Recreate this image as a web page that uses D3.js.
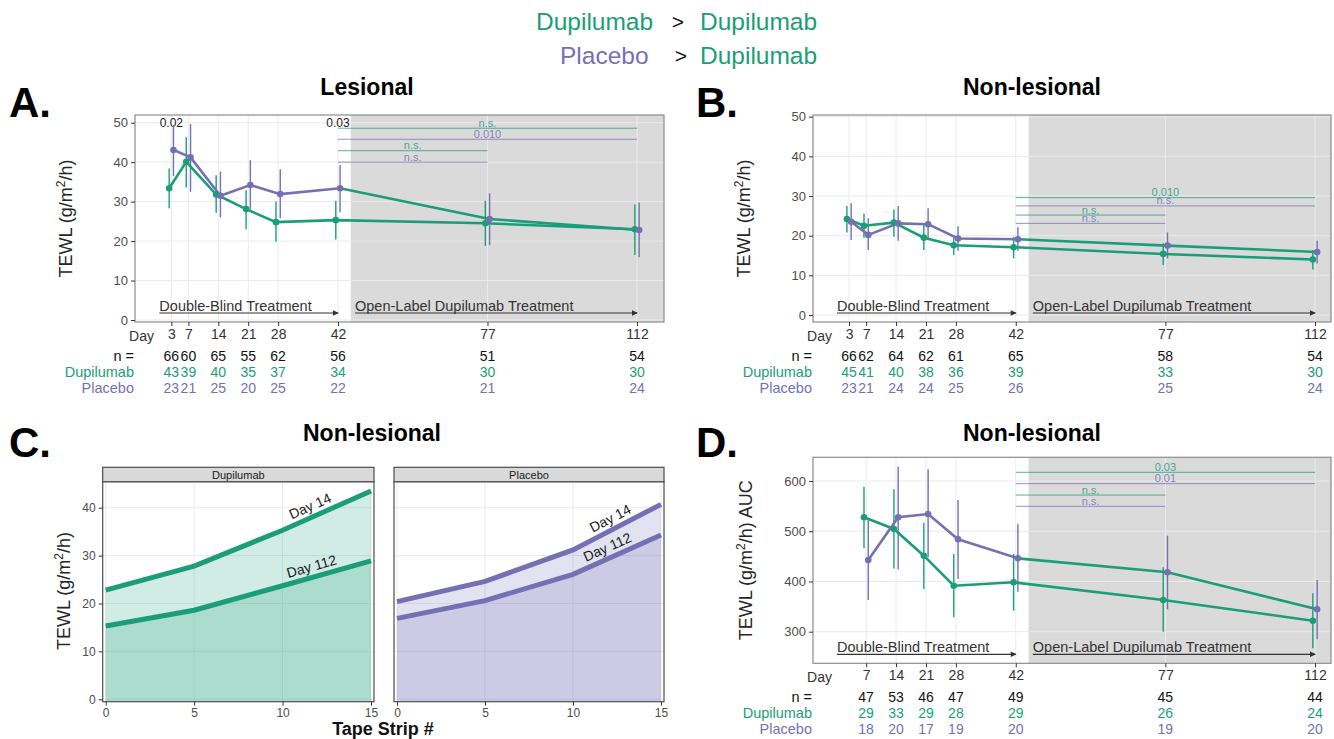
<!DOCTYPE html>
<html>
<head>
<meta charset="utf-8">
<script src="https://cdn.jsdelivr.net/npm/d3@7"></script>
<style>
body { margin: 0; background: #fff; }
svg { display: block; }
text { font-family: "Liberation Sans", Arial, sans-serif; }
</style>
</head>
<body>
<div id="chart"></div>
<script>
const GREEN = "#1b9e77";
const PURPLE = "#7570b3";

// header legend
const legendLeft = ["Dupilumab", "Placebo"];
const legendRight = ["Dupilumab", "Dupilumab"];

// study days
const days = [3, 7, 14, 21, 28, 42, 77, 112];
const daysAuc = [7, 14, 21, 28, 42, 77, 112];

// A. Lesional TEWL
const lesDupMean = [33.4, 40.1, 31.8, 28.1, 24.8, 25.3, 24.5, 23.0];
const lesDupLo = [28.3, 33.6, 27.2, 23.0, 19.8, 20.4, 18.8, 16.5];
const lesDupHi = [38.4, 46.3, 36.7, 32.9, 30.0, 30.2, 30.2, 29.3];
const lesPlaMean = [43.1, 41.2, 31.5, 34.2, 31.9, 33.4, 25.6, 22.8];
const lesPlaLo = [36.5, 32.5, 26.0, 28.0, 25.8, 27.3, 19.0, 15.9];
const lesPlaHi = [49.5, 49.7, 37.6, 40.5, 38.2, 39.3, 32.1, 29.8];
const lesN = [66, 60, 65, 55, 62, 56, 51, 54];
const lesNDup = [43, 39, 40, 35, 37, 34, 30, 30];
const lesNPla = [23, 21, 25, 20, 25, 22, 21, 24];
const lesSigLabels = ["n.s.", "0.010", "n.s.", "n.s."];
const lesSigY = [48.6, 45.8, 42.9, 40.0];
const lesSigEnd = [112, 112, 77, 77];
const lesTopP = ["0.02", "0.03"];
const lesTopPDays = [3, 42];

// B. Non-lesional TEWL
const nlDupMean = [24.2, 22.5, 23.3, 19.5, 17.6, 17.1, 15.4, 14.0];
const nlDupLo = [20.8, 19.5, 19.7, 16.4, 15.1, 14.3, 12.6, 11.5];
const nlDupHi = [27.5, 25.5, 26.6, 22.7, 20.2, 19.7, 18.1, 16.4];
const nlPlaMean = [23.5, 20.2, 23.1, 22.9, 19.3, 19.1, 17.5, 15.9];
const nlPlaLo = [18.9, 16.4, 18.7, 19.1, 16.2, 16.2, 14.3, 13.0];
const nlPlaHi = [28.2, 24.4, 27.5, 26.9, 22.4, 22.1, 20.8, 18.7];
const nlN = [66, 62, 64, 62, 61, 65, 58, 54];
const nlNDup = [45, 41, 40, 38, 36, 39, 33, 30];
const nlNPla = [23, 21, 24, 24, 25, 26, 25, 24];
const nlSigLabels = ["0.010", "n.s.", "n.s.", "n.s."];
const nlSigY = [29.6, 27.5, 25.2, 23.1];
const nlSigEnd = [112, 112, 77, 77];

// C. Tape strips
const tapeStrips = [0, 5, 10, 15];
const tapeDupDay14 = [22.8, 27.8, 35.3, 43.5];
const tapeDupDay112 = [15.3, 18.6, 23.7, 28.9];
const tapePlaDay14 = [20.4, 24.6, 31.2, 40.7];
const tapePlaDay112 = [16.9, 20.6, 26.1, 34.3];

// D. Non-lesional TEWL AUC
const aucDupMean = [527.8, 504.5, 451.3, 391.6, 398.3, 363.0, 321.9];
const aucDupLo = [466, 426, 385, 328.6, 341.8, 300, 267];
const aucDupHi = [588.7, 583.5, 517, 454.7, 454.7, 428.2, 376.5];
const aucPlaMean = [442.7, 527.8, 534.3, 484.0, 446.0, 418.3, 344.6];
const aucPlaLo = [363, 424, 448, 405, 379.6, 344.6, 285];
const aucPlaHi = [522.4, 628.5, 623.3, 562.2, 513.8, 491.1, 403];
const aucN = [47, 53, 46, 47, 49, 45, 44];
const aucNDup = [29, 33, 29, 28, 29, 26, 24];
const aucNPla = [18, 20, 17, 19, 20, 19, 20];
const aucSigLabels = ["0.03", "0.01", "n.s.", "n.s."];
const aucSigY = [617.3, 594.7, 572.0, 549.6];
const aucSigEnd = [112, 112, 77, 77];

const sigGroups = ["Dupilumab", "Placebo", "Dupilumab", "Placebo"];

function yTitle(g, x, y, extra) {
    const t = g.append("text")
        .attr("transform", `translate(${x},${y}) rotate(-90)`)
        .attr("text-anchor", "middle")
        .attr("fill", "#262626")
        .attr("font-size", 18);
    t.append("tspan").text("TEWL (g/m");
    t.append("tspan").attr("dy", -7).attr("font-size", 12).text("2");
    t.append("tspan").attr("dy", 7).text("/h)" + (extra || ""));
}

function drawTimePanel(svg, p) {
    const x = d3.scaleLinear().domain([0, 112]).range(p.xr);
    const y = d3.scaleLinear().domain(p.yd).range(p.yr);
    const g = svg.append("g");
    const W = p.right - p.left, H = p.bottom - p.top;
    const dodge = 0.5;

    g.append("rect").attr("x", p.left).attr("y", p.top).attr("width", W).attr("height", H).attr("fill", "#fff");
    g.append("rect").attr("x", x(45)).attr("y", p.top)
        .attr("width", p.right - x(45)).attr("height", H).attr("fill", "#dadada");

    // grid
    g.append("g").selectAll("line").data(p.yTicks).join("line")
        .attr("x1", p.left).attr("x2", p.right)
        .attr("y1", d => y(d)).attr("y2", d => y(d))
        .attr("stroke", "#ebebeb").attr("stroke-width", 1);
    g.append("g").selectAll("line").data(p.days).join("line")
        .attr("x1", d => x(d)).attr("x2", d => x(d))
        .attr("y1", p.top).attr("y2", p.bottom)
        .attr("stroke", "#ebebeb").attr("stroke-width", 1);

    // significance brackets
    const sig = p.sigLabels.map((l, i) => ({ label: l, v: p.sigY[i], end: p.sigEnd[i], grp: sigGroups[i] }));
    const sg = g.append("g");
    sg.selectAll("line").data(sig).join("line")
        .attr("x1", x(42)).attr("x2", d => x(d.end))
        .attr("y1", d => y(d.v)).attr("y2", d => y(d.v))
        .attr("stroke", d => d.grp == "Dupilumab" ? GREEN : PURPLE)
        .attr("stroke-opacity", 0.75)
        .attr("stroke-width", 1);
    sg.selectAll("text").data(sig).join("text")
        .attr("x", d => (x(42) + x(d.end)) / 2)
        .attr("y", d => y(d.v) - 1.5)
        .attr("text-anchor", "middle")
        .attr("font-size", 11)
        .attr("fill", d => d.grp == "Dupilumab" ? GREEN : PURPLE)
        .attr("fill-opacity", 0.85)
        .text(d => d.label);

    if (p.topP) {
        g.append("g").selectAll("text").data(p.topP).join("text")
            .attr("x", (d, i) => x(p.topPDays[i]))
            .attr("y", y(50))
            .attr("dominant-baseline", "central")
            .attr("text-anchor", "middle")
            .attr("font-size", 12)
            .attr("fill", "#1a1a1a")
            .text(d => d);
    }

    // treatment arrows
    const ay = p.bottom - 9;
    const arrows = [
        { from: 0.2, to: 42, label: "Double-Blind Treatment" },
        { from: 46, to: 112, label: "Open-Label Dupilumab Treatment" }
    ];
    const ag = g.append("g");
    ag.selectAll("line").data(arrows).join("line")
        .attr("x1", d => x(d.from)).attr("x2", d => x(d.to))
        .attr("y1", ay).attr("y2", ay)
        .attr("stroke", "#333").attr("stroke-width", 1.2);
    ag.selectAll("path").data(arrows).join("path")
        .attr("d", d => `M${x(d.to) + 1},${ay} l-6,-2.8 l0,5.6 z`)
        .attr("fill", "#333");
    ag.selectAll("text").data(arrows).join("text")
        .attr("x", d => x(d.from)).attr("y", ay - 2.5)
        .attr("font-size", 14.5).attr("fill", "#333")
        .text(d => d.label);

    // series
    const rows = (m, lo, hi, off) => p.days.map((d, i) => ({ day: d, xd: d + off, m: m[i], lo: lo[i], hi: hi[i] }));
    const dup = rows(p.dupMean, p.dupLo, p.dupHi, -dodge);
    const pla = rows(p.plaMean, p.plaLo, p.plaHi, dodge);
    const line = d3.line().x(d => x(d.xd)).y(d => y(d.m));

    const series = [
        { data: dup, color: GREEN },
        { data: pla, color: PURPLE }
    ];
    series.forEach(s => {
        g.append("g").selectAll("line").data(s.data).join("line")
            .attr("x1", d => x(d.xd)).attr("x2", d => x(d.xd))
            .attr("y1", d => y(d.lo)).attr("y2", d => y(d.hi))
            .attr("stroke", s.color).attr("stroke-width", 1.4);
    });
    g.append("path").datum(dup).attr("d", line)
        .attr("fill", "none").attr("stroke", GREEN).attr("stroke-width", 2.6);
    g.append("path").datum(pla.filter(d => d.day <= 42)).attr("d", line)
        .attr("fill", "none").attr("stroke", PURPLE).attr("stroke-width", 2.6);
    g.append("path").datum(pla.filter(d => d.day >= 42)).attr("d", line)
        .attr("fill", "none").attr("stroke", GREEN).attr("stroke-width", 2.6);
    series.forEach(s => {
        g.append("g").selectAll("circle").data(s.data).join("circle")
            .attr("cx", d => x(d.xd)).attr("cy", d => y(d.m))
            .attr("r", 3.3).attr("fill", s.color);
    });

    g.append("rect").attr("x", p.left).attr("y", p.top).attr("width", W).attr("height", H)
        .attr("fill", "none").attr("stroke", "#8c8c8c").attr("stroke-width", 1.2);

    // axes
    const ya = g.append("g").attr("transform", `translate(${p.left},0)`)
        .call(d3.axisLeft(y).tickValues(p.yTicks).tickSize(4).tickPadding(3));
    ya.select(".domain").remove();
    ya.selectAll("line").attr("stroke", "#333");
    ya.selectAll("text").attr("font-size", 13).attr("fill", "#4d4d4d").attr("font-family", "Liberation Sans, Arial, sans-serif");

    const xa = g.append("g").attr("transform", `translate(0,${p.bottom})`)
        .call(d3.axisBottom(x).tickValues(p.days).tickSize(4).tickPadding(3).tickFormat(d3.format("d")));
    xa.select(".domain").remove();
    xa.selectAll("line").attr("stroke", "#333");
    xa.selectAll("text").attr("font-size", 14).attr("fill", "#333").attr("font-family", "Liberation Sans, Arial, sans-serif");

    // n table
    const tb = g.append("g").attr("font-size", 14);
    tb.append("text").attr("x", p.left + 19).attr("y", p.bottom + 13.5)
        .attr("text-anchor", "end").attr("dominant-baseline", "central").attr("fill", "#333").text("Day");
    const tRows = [
        { label: "n =", vals: p.n, color: "#111", dy: 33.5 },
        { label: "Dupilumab", vals: p.nDup, color: GREEN, dy: 50 },
        { label: "Placebo", vals: p.nPla, color: PURPLE, dy: 65.5 }
    ];
    tRows.forEach(r => {
        tb.append("text").attr("x", p.left - 1).attr("y", p.bottom + r.dy)
            .attr("text-anchor", "end").attr("dominant-baseline", "central")
            .attr("font-size", 14.5)
            .attr("fill", r.color).text(r.label);
        tb.append("g").selectAll("text").data(r.vals).join("text")
            .attr("x", (d, i) => x(p.days[i])).attr("y", p.bottom + r.dy)
            .attr("text-anchor", "middle").attr("dominant-baseline", "central")
            .attr("fill", r.color).text(d => d);
    });

    yTitle(g, p.yTitleX, (p.top + p.bottom) / 2, p.yTitleExtra);
}

function drawTapeFacet(svg, p) {
    const x = d3.scaleLinear().domain([0, 15]).range([p.left + 3, p.right - 3]);
    const y = d3.scaleLinear().domain([0, 40]).range([699.3, 507.7]);
    const g = svg.append("g");
    const W = p.right - p.left, H = p.bottom - p.top;

    g.append("rect").attr("x", p.left).attr("y", p.top).attr("width", W).attr("height", H).attr("fill", "#fff");
    g.append("g").selectAll("line").data([0, 10, 20, 30, 40]).join("line")
        .attr("x1", p.left).attr("x2", p.right).attr("y1", d => y(d)).attr("y2", d => y(d))
        .attr("stroke", "#ebebeb");
    g.append("g").selectAll("line").data(tapeStrips).join("line")
        .attr("x1", d => x(d)).attr("x2", d => x(d)).attr("y1", p.top).attr("y2", p.bottom)
        .attr("stroke", "#ebebeb");

    const curves = [
        { vals: p.day14, label: "Day 14", at: p.lab14 },
        { vals: p.day112, label: "Day 112", at: p.lab112 }
    ];
    const area = d3.area().x(d => x(d.s)).y0(p.bottom).y1(d => y(d.v));
    const line = d3.line().x(d => x(d.s)).y(d => y(d.v));
    curves.forEach(c => {
        c.pts = tapeStrips.map((s, i) => ({ s: s, v: c.vals[i] }));
        g.append("path").datum(c.pts).attr("d", area).attr("fill", p.color).attr("fill-opacity", 0.2);
    });
    curves.forEach(c => {
        g.append("path").datum(c.pts).attr("d", line)
            .attr("fill", "none").attr("stroke", p.color).attr("stroke-width", 5);
        // label along the line
        const k = tapeStrips.findIndex(s => s > c.at) - 1;
        const a = c.pts[k], b = c.pts[k + 1];
        const f = (c.at - a.s) / (b.s - a.s);
        const px = x(c.at), py = y(a.v + f * (b.v - a.v));
        const ang = Math.atan2(y(b.v) - y(a.v), x(b.s) - x(a.s)) * 180 / Math.PI;
        g.append("text")
            .attr("transform", `translate(${px},${py}) rotate(${ang}) translate(0,-6)`)
            .attr("text-anchor", "middle").attr("font-size", 14).attr("fill", "#1a1a1a")
            .text(c.label);
    });

    g.append("rect").attr("x", p.left).attr("y", p.top).attr("width", W).attr("height", H)
        .attr("fill", "none").attr("stroke", "#4d4d4d").attr("stroke-width", 1.2);
    g.append("rect").attr("x", p.left).attr("y", p.stripTop).attr("width", W).attr("height", p.top - p.stripTop)
        .attr("fill", "#d9d9d9").attr("stroke", "#4d4d4d").attr("stroke-width", 1.2);
    g.append("text").attr("x", (p.left + p.right) / 2).attr("y", (p.top + p.stripTop) / 2)
        .attr("text-anchor", "middle").attr("dominant-baseline", "central")
        .attr("font-size", 11).attr("fill", "#1a1a1a").text(p.label);

    const xa = g.append("g").attr("transform", `translate(0,${p.bottom})`)
        .call(d3.axisBottom(x).tickValues(tapeStrips).tickSize(4).tickPadding(3));
    xa.select(".domain").remove();
    xa.selectAll("line").attr("stroke", "#333");
    xa.selectAll("text").attr("font-size", 12).attr("fill", "#4d4d4d").attr("font-family", "Liberation Sans, Arial, sans-serif");

    if (p.showY) {
        const ya = g.append("g").attr("transform", `translate(${p.left},0)`)
            .call(d3.axisLeft(y).tickValues([0, 10, 20, 30, 40]).tickSize(4).tickPadding(3));
        ya.select(".domain").remove();
        ya.selectAll("line").attr("stroke", "#333");
        ya.selectAll("text").attr("font-size", 12).attr("fill", "#4d4d4d").attr("font-family", "Liberation Sans, Arial, sans-serif");
    }
}

function createFigure() {
    const svg = d3.select("#chart").append("svg").attr("width", 1334).attr("height", 739);
    svg.append("rect").attr("width", 1334).attr("height", 739).attr("fill", "#fff");

    // header legend
    const hg = svg.append("g").attr("font-family", "Lato, 'Open Sans', sans-serif").attr("font-size", 24.5);
    legendLeft.forEach((l, i) => {
        const yy = 30 + i * 34;
        hg.append("text").attr("x", i == 0 ? 536 : 560).attr("y", yy)
            .attr("fill", l == "Dupilumab" ? GREEN : PURPLE).attr("font-family", "Lato, sans-serif").text(l);
        hg.append("text").attr("x", i == 0 ? 678 : 681).attr("y", yy - 1).attr("text-anchor", "middle")
            .attr("fill", "#111").attr("font-size", 21).attr("font-family", "Lato, sans-serif").text(">");
        hg.append("text").attr("x", 700).attr("y", yy)
            .attr("fill", legendRight[i] == "Dupilumab" ? GREEN : PURPLE).attr("font-family", "Lato, sans-serif").text(legendRight[i]);
    });

    // panel letters and titles
    const heads = [
        { letter: "A.", lx: 9, ly: 117, title: "Lesional", tx: 367, ty: 95 },
        { letter: "B.", lx: 696, ly: 117, title: "Non-lesional", tx: 1032, ty: 95 },
        { letter: "C.", lx: 9, ly: 457, title: "Non-lesional", tx: 372, ty: 441 },
        { letter: "D.", lx: 696, ly: 457, title: "Non-lesional", tx: 1032, ty: 441 }
    ];
    heads.forEach(h => {
        svg.append("text").attr("x", h.lx).attr("y", h.ly)
            .attr("font-family", "Lato, sans-serif").attr("font-weight", "bold").attr("font-size", 42)
            .attr("fill", "#000").text(h.letter);
        svg.append("text").attr("x", h.tx).attr("y", h.ty).attr("text-anchor", "middle")
            .attr("font-family", "Lato, sans-serif").attr("font-weight", "bold").attr("font-size", 23)
            .attr("fill", "#000").text(h.title);
    });

    drawTimePanel(svg, {
        left: 135, right: 664, top: 115, bottom: 322,
        xr: [158.5, 637], yd: [0, 50], yr: [320, 122.7], yTicks: [0, 10, 20, 30, 40, 50],
        days: days,
        dupMean: lesDupMean, dupLo: lesDupLo, dupHi: lesDupHi,
        plaMean: lesPlaMean, plaLo: lesPlaLo, plaHi: lesPlaHi,
        n: lesN, nDup: lesNDup, nPla: lesNPla,
        sigLabels: lesSigLabels, sigY: lesSigY, sigEnd: lesSigEnd,
        topP: lesTopP, topPDays: lesTopPDays,
        yTitleX: 72
    });

    drawTimePanel(svg, {
        left: 813, right: 1331, top: 115, bottom: 322,
        xr: [836.2, 1315], yd: [0, 50], yr: [315, 116.7], yTicks: [0, 10, 20, 30, 40, 50],
        days: days,
        dupMean: nlDupMean, dupLo: nlDupLo, dupHi: nlDupHi,
        plaMean: nlPlaMean, plaLo: nlPlaLo, plaHi: nlPlaHi,
        n: nlN, nDup: nlNDup, nPla: nlNPla,
        sigLabels: nlSigLabels, sigY: nlSigY, sigEnd: nlSigEnd,
        yTitleX: 750
    });

    drawTimePanel(svg, {
        left: 813, right: 1331, top: 457.3, bottom: 663.3,
        xr: [836.2, 1315], yd: [300, 600], yr: [631.7, 481], yTicks: [300, 400, 500, 600],
        days: daysAuc,
        dupMean: aucDupMean, dupLo: aucDupLo, dupHi: aucDupHi,
        plaMean: aucPlaMean, plaLo: aucPlaLo, plaHi: aucPlaHi,
        n: aucN, nDup: aucNDup, nPla: aucNPla,
        sigLabels: aucSigLabels, sigY: aucSigY, sigEnd: aucSigEnd,
        yTitleX: 752, yTitleExtra: " AUC"
    });

    drawTapeFacet(svg, {
        left: 102.7, right: 374, top: 481.7, bottom: 701.7, stripTop: 467.3,
        label: "Dupilumab", color: GREEN, day14: tapeDupDay14, day112: tapeDupDay112,
        lab14: 11.8, lab112: 11.8, showY: true
    });
    drawTapeFacet(svg, {
        left: 394, right: 664, top: 481.7, bottom: 701.7, stripTop: 467.3,
        label: "Placebo", color: PURPLE, day14: tapePlaDay14, day112: tapePlaDay112,
        lab14: 12.4, lab112: 12.2, showY: false
    });
    yTitle(svg, 70, 591);
    svg.append("text").attr("x", 383).attr("y", 735).attr("text-anchor", "middle")
        .attr("font-size", 18).attr("font-weight", "bold").attr("fill", "#111").text("Tape Strip #");
}

document.addEventListener("DOMContentLoaded", function (e) {
    createFigure();
});
</script>
</body>
</html>
